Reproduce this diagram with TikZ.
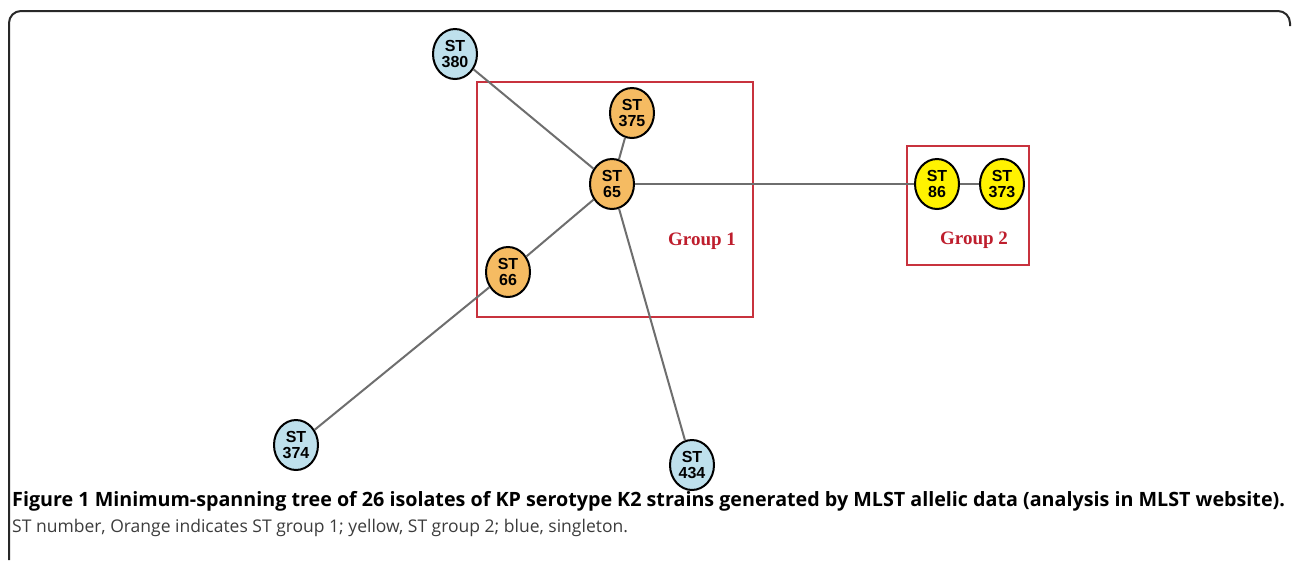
\documentclass[tikz,border=0pt]{standalone}
\usepackage{fontspec}
\setmainfont{Liberation Serif}
\newfontfamily\nodefont{Liberation Sans}
\newfontfamily\capfont{Open Sans}
\usetikzlibrary{shapes.geometric}
\definecolor{blueST}{RGB}{190,224,236}
\definecolor{orangeST}{RGB}{245,187,98}
\definecolor{yellowST}{RGB}{255,242,0}
\definecolor{grpred}{RGB}{200,50,62}
\definecolor{grptext}{RGB}{190,30,45}
\definecolor{edgegray}{RGB}{110,110,110}
\definecolor{framegray}{RGB}{40,40,40}
\definecolor{captext}{RGB}{60,60,60}
\tikzset{
  stnode/.style={ellipse, draw=black, line width=2pt, minimum width=44pt, minimum height=50pt, inner sep=0pt,
    font=\nodefont\bfseries\fontsize{16}{16.5}\selectfont, align=center},
  bluenode/.style={stnode, fill=blueST},
  orangenode/.style={stnode, fill=orangeST},
  yellownode/.style={stnode, fill=yellowST},
  edge/.style={draw=edgegray, line width=2pt},
  grpbox/.style={draw=grpred, line width=1.6pt},
  grplabel/.style={text=grptext, font=\bfseries\fontsize{19}{19}\selectfont},
}
\begin{document}
\begin{tikzpicture}[x=1pt,y=-1pt]
\useasboundingbox (0,0) rectangle (1292,560);
% frame
\draw[framegray, line width=2pt, rounded corners=12pt] (9,560) -- (9,11) -- (1290,11) -- (1290,26);
% group boxes
\node[grpbox, minimum width=276pt, minimum height=235pt, inner sep=0pt] (g1) at (615,199.5) {};
\node[grpbox, minimum width=122pt, minimum height=119pt, inner sep=0pt] (g2) at (968,205.5) {};
\node[grplabel] (g1l) at (702,241) {Group 1};
\node[grplabel] (g2l) at (974,240) {Group 2};
% nodes
\node[orangenode] (n65) at (612,184) {ST\\65};
\node[bluenode] (n380) at (455,54) {ST\\380};
\node[orangenode] (n375) at (632,113) {ST\\375};
\node[orangenode] (n66) at (508,272) {ST\\66};
\node[bluenode] (n374) at (296,445) {ST\\374};
\node[bluenode] (n434) at (692,465) {ST\\434};
\node[yellownode] (n86) at (937,184) {ST\\86};
\node[yellownode] (n373) at (1002,184) {ST\\373};
% edges
\path[edge] (n65) -- (n380);
\path[edge] (n65) -- (n375);
\path[edge] (n65) -- (n86);
\path[edge] (n65) -- (n66);
\path[edge] (n65) -- (n434);
\path[edge] (n66) -- (n374);
\path[edge] (n86) -- (n373);
% caption
\node[anchor=base west, inner sep=0pt, font=\capfont\bfseries\fontsize{19.7}{22}\selectfont] (cap1) at (12,506) {Figure 1 Minimum-spanning tree of 26 isolates of KP serotype K2 strains generated by MLST allelic data (analysis in MLST website).};
\node[anchor=base west, inner sep=0pt, font=\capfont\fontsize{17.5}{20}\selectfont, text=captext] (cap2) at (12,532) {ST number, Orange indicates ST group 1; yellow, ST group 2; blue, singleton.};
\end{tikzpicture}
\end{document}
